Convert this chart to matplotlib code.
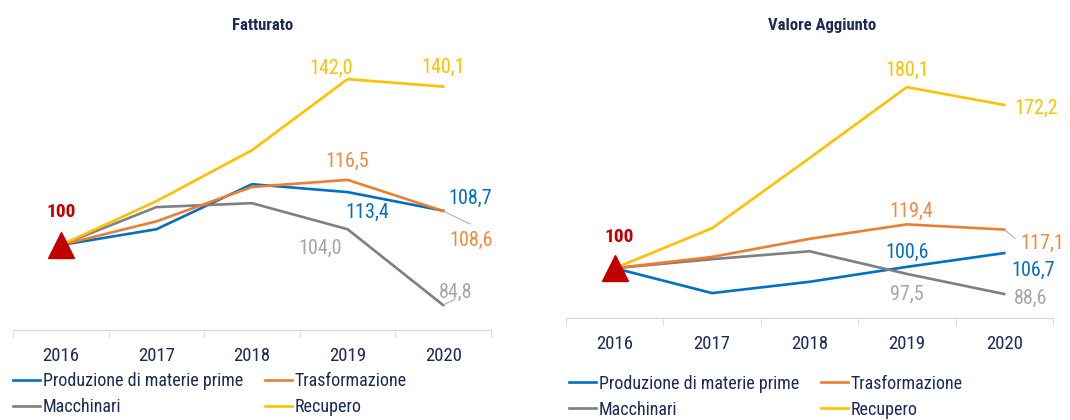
import matplotlib.pyplot as plt
from matplotlib.ticker import FixedLocator

years = ["2016", "2017", "2018", "2019", "2020"]
series_names = ["Produzione di materie prime", "Macchinari", "Trasformazione", "Recupero"]

# Fatturato (2016 = 100)
fat_prod = [100, 104.0, 115.4, 113.4, 108.7]
fat_macc = [100, 109.6, 110.6, 104.0, 84.8]
fat_trasf = [100, 106.0, 114.7, 116.5, 108.6]
fat_recup = [100, 111.1, 124.0, 142.0, 140.1]

# Valore Aggiunto (2016 = 100)
va_prod = [100, 89.0, 94.0, 100.6, 106.7]
va_macc = [100, 104.0, 107.5, 97.5, 88.6]
va_trasf = [100, 105.0, 113.0, 119.4, 117.1]
va_recup = [100, 117.7, 148.7, 180.1, 172.2]

plt.rcParams['font.family'] = ['Liberation Sans Narrow', 'DejaVu Sans Condensed',
                               'Roboto Condensed', 'Liberation Sans', 'DejaVu Sans']

navy = "#1B2A57"
colors = {"Produzione di materie prime": "#0070C0", "Macchinari": "#7F7F7F",
          "Trasformazione": "#ED7D31", "Recupero": "#FFC000"}
label_colors = {"Produzione di materie prime": "#0070C0", "Macchinari": "#A6A6A6",
                "Trasformazione": "#F08A3E", "Recupero": "#FFC000"}

fig = plt.figure(figsize=(10.7, 4.2), dpi=100)
ax1 = fig.add_axes([0.01215, 0.2143, 0.4467, 0.6726])
ax2 = fig.add_axes([0.529, 0.2429, 0.455, 0.603])


def draw(ax, data, ylim, labels, base_off):
    x = range(len(years))
    handles = []
    for name in series_names:
        h, = ax.plot(x, data[name], color=colors[name], lw=1.9, solid_joinstyle="round")
        handles.append(h)
    ax.plot([0], [100], marker="^", ms=19, color="#C00000", ls="none", zorder=5)
    ax.annotate("100", (0, 100), xytext=base_off, textcoords="offset pixels",
                ha="center", va="center", color="#C00000", fontsize=14, fontweight="bold")
    for name, idx, off, leader in labels:
        v = data[name][idx]
        ax.annotate(f"{v:.1f}".replace(".", ","), (idx, v), xytext=off,
                    textcoords="offset pixels", ha="center", va="center",
                    color=label_colors[name], fontsize=14.5)
        if leader is not None:
            ax.annotate("", (idx, v), xytext=leader, textcoords="offset pixels",
                        arrowprops=dict(arrowstyle="-", color="#A6A6A6", lw=0.7,
                                        shrinkA=0, shrinkB=0))
    ax.set_xlim(-0.5, len(years) - 0.5)
    ax.set_ylim(*ylim)
    ax.set_yticks([])
    for s in ["top", "right", "left"]:
        ax.spines[s].set_visible(False)
    ax.spines["bottom"].set_color("#D9D9D9")
    ax.set_xticks(list(x))
    ax.set_xticklabels(years, color=navy, fontsize=13.5)
    ax.tick_params(axis="x", which="major", length=0, pad=12)
    ax.xaxis.set_minor_locator(FixedLocator([i - 0.5 for i in range(len(years) + 1)]))
    ax.tick_params(axis="x", which="minor", length=6, color="#D9D9D9", direction="out")
    return handles


fat = {"Produzione di materie prime": fat_prod, "Macchinari": fat_macc,
       "Trasformazione": fat_trasf, "Recupero": fat_recup}
va = {"Produzione di materie prime": va_prod, "Macchinari": va_macc,
      "Trasformazione": va_trasf, "Recupero": va_recup}

fat_labels = [
    ("Recupero", 3, (-16, 11), None),
    ("Recupero", 4, (0, 19), None),
    ("Trasformazione", 3, (0, 18), None),
    ("Produzione di materie prime", 3, (20, -20), None),
    ("Produzione di materie prime", 4, (27, 12), None),
    ("Trasformazione", 4, (28, -29), (27, -13)),
    ("Macchinari", 3, (-27, -19), None),
    ("Macchinari", 4, (12, 13), (12, 6)),
]
va_labels = [
    ("Recupero", 3, (0, 17), None),
    ("Recupero", 4, (32, -3), None),
    ("Trasformazione", 3, (4, 13), None),
    ("Trasformazione", 4, (38, -14), (11, -9)),
    ("Produzione di materie prime", 3, (0, 14), None),
    ("Produzione di materie prime", 4, (29, -17), None),
    ("Macchinari", 3, (0, -21), None),
    ("Macchinari", 4, (26, -4), None),
]

h1 = draw(ax1, fat, (78.5, 150), fat_labels, (0, 33))
h2 = draw(ax2, va, (78, 190), va_labels, (4, 31))

for h, anchor in [(h1, (0.012, 0.114)), (h2, (0.532, 0.108))]:
    leg = fig.legend(h, series_names, loc="upper left", bbox_to_anchor=anchor,
                     ncol=2, frameon=False, fontsize=13, handlelength=1.5,
                     handletextpad=0.15, columnspacing=1.2, labelspacing=0.45,
                     borderpad=0, borderaxespad=0)
    for t in leg.get_texts():
        t.set_color(navy)

fig.text(0.245, 0.94, "Fatturato", ha="center", va="center", color=navy,
         fontsize=12, fontweight="bold")
fig.text(0.768, 0.94, "Valore Aggiunto", ha="center", va="center", color=navy,
         fontsize=12, fontweight="bold")

fig.savefig("out.png", dpi=100)
